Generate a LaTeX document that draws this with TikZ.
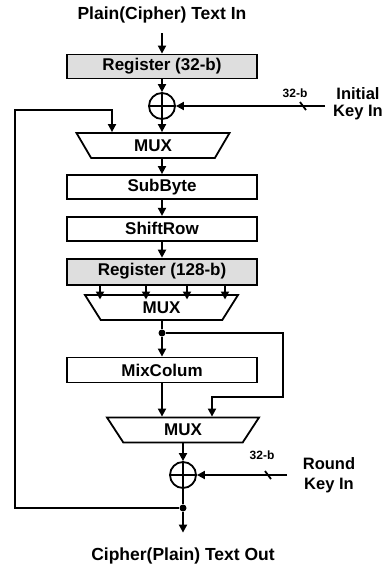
\documentclass[tikz,border=0pt]{standalone}
\usepackage{fontspec}
\setmainfont{Liberation Sans}
\usepackage{tikz}
\usetikzlibrary{shapes.geometric,arrows.meta,positioning,calc}
\definecolor{regfill}{RGB}{222,222,222}

\begin{document}
\begin{tikzpicture}[x=1pt, y=-1pt, line width=1.8pt,
  blk/.style={draw, minimum width=190pt, minimum height=24pt, inner sep=0pt, font=\fontsize{17}{19}\selectfont\bfseries},
  reg/.style={blk, fill=regfill},
  mux/.style={draw, trapezium, shape border rotate=180, trapezium stretches body=true, trapezium angle=#1, minimum width=153pt, minimum height=25pt, inner sep=0pt, font=\fontsize{17}{19}\selectfont\bfseries},
  xor/.style={circle, draw, minimum size=26pt, inner sep=0pt, path picture={\draw[line width=1.8pt] (path picture bounding box.north) -- (path picture bounding box.south) (path picture bounding box.west) -- (path picture bounding box.east);}},
  junc/.style={circle, fill, inner sep=0pt, minimum size=7pt},
  arr/.style={-{Triangle[length=8pt,width=8pt]}},
  lbl/.style={font=\fontsize{17.5}{19}\selectfont\bfseries},
  keylbl/.style={align=center, font=\fontsize{16}{18}\selectfont\bfseries},
  bits/.style={font=\fontsize{12}{13}\selectfont\bfseries}]
\useasboundingbox (0,0) rectangle (391,571);

\node[lbl] (title) at (162,15) {Plain(Cipher) Text In};
\node[reg] (reg32) at (162,66.5) {Register (32-b)};
\node[xor] (xor1) at (162,106) {};
\node[bits] (bits1) at (295,93) {32-b};
\node[keylbl, align=center, font=\fontsize{16.5}{17}\selectfont\bfseries] (initkey) at (358,104) {Initial\\Key In};
\coordinate (key1) at (325,106);
\node[mux=39] (mux1) at (153,145.5) {MUX};
\node[blk] (subbyte) at (162,187) {SubByte};
\node[blk, below=16pt of subbyte] (shiftrow) {ShiftRow};
\node[reg, minimum height=26pt, below=16pt of shiftrow] (reg128) {Register (128-b)};
\node[mux=37] (mux2) at (161.5,307.5) {MUX};
\node[junc] (dot1) at (162,333) {};
\node[blk, minimum height=25pt] (mixcol) at (162,370) {MixColum};
\node[mux=36, minimum width=152pt] (mux3) at (183,430) {MUX};
\node[xor] (xor2) at (183,475) {};
\node[bits] (bits2) at (262,455) {32-b};
\node[keylbl, align=center, font=\fontsize{16.5}{20}\selectfont\bfseries] (roundkey) at (329,475) {Round\\Key In};
\coordinate (key2) at (287,475);
\node[junc] (dot2) at (183,508) {};
\node[lbl] (outtxt) at (183,556) {Cipher(Plain) Text Out};

% key inputs
\draw[arr] (key1) -- (xor1);
\draw ($(key1)+(-25,-4)$) -- ++(6,8);
\draw[arr] (key2) -- (xor2);
\draw ($(key2)+(-22,-4)$) -- ++(6,8);

% data path
\draw[arr, shorten <=6pt] (title) -- (reg32);
\draw[arr] (reg32) -- (xor1);
\draw[arr] (xor1) -- (xor1 |- mux1.north);
\draw[arr] (xor1 |- mux1.south) -- (xor1 |- subbyte.north);
\draw[arr] (subbyte) -- (shiftrow);
\draw[arr] (shiftrow) -- (reg128);
\foreach \x in {100,146,187,225}
  \draw[arr] ($(reg128.south)+(\x-162,0)$) -- ++(0,14);
\draw (dot1 |- mux2.south) -- (dot1);
\draw[arr] (dot1) -- (mixcol);
\draw[arr] (mixcol) -- (mixcol |- mux3.north);
\coordinate (loopr) at (283,397);
\coordinate (loopin) at (212,397);
\draw[arr] (dot1) -| (loopr) -- (loopin) -- (loopin |- mux3.north);
\draw[arr] (xor2 |- mux3.south) -- (xor2);
\draw (xor2) -- (dot2);
\draw[arr, shorten >=11pt] (dot2) -- (outtxt);

% feedback
\coordinate (fbleft) at (15,110);
\coordinate (fbin) at (112,110);
\draw[arr] (dot2) -| (fbleft) -- (fbin) -- (fbin |- mux1.north);
\end{tikzpicture}
\end{document}
